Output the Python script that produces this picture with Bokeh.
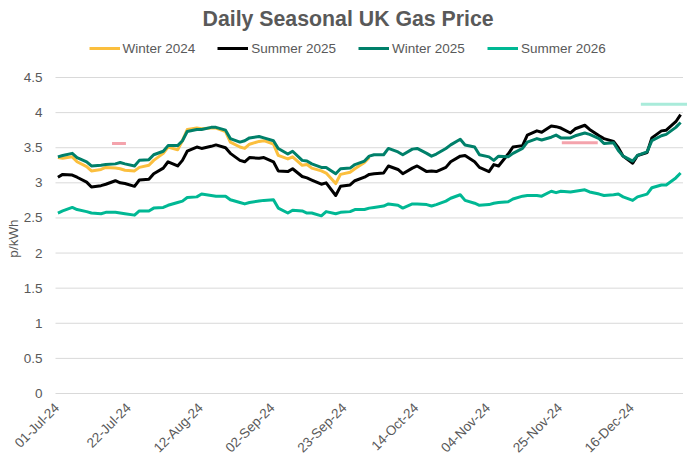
import math
import pandas as pd
from bokeh.plotting import figure
from bokeh.models import Range1d, Legend, LegendItem, ColumnDataSource
from bokeh.core.properties import value
from bokeh.embed import file_html
from bokeh.resources import INLINE

# ---------------- data ----------------
title_text = "Daily Seasonal UK Gas Price"
y_label = "p/kWh"
n_days = 131
trading_days = pd.bdate_range("2024-07-01", periods=n_days)
x_tick_days = list(range(0, 121, 15))
x_tick_labels = [trading_days[d].strftime("%d-%b-%y") for d in x_tick_days]
y_ticks = [0, 0.5, 1, 1.5, 2, 2.5, 3, 3.5, 4, 4.5]
y_tick_labels = ["0", "0.5", "1", "1.5", "2", "2.5", "3", "3.5", "4", "4.5"]

# values read every ~1.44 trading days (91 samples over 131 trading days)
n_samples = 91
sample_day = [round(i * (n_days - 1) / (n_samples - 1)) for i in range(n_samples)]

winter_2024 = [3.36, 3.35, 3.37, 3.30, 3.23, 3.17, 3.19, 3.22, 3.21, 3.20, 3.18, 3.17, 3.22, 3.25, 3.32,
               3.42, 3.51, 3.47, 3.60, 3.76, 3.78, 3.77, 3.78, 3.78, 3.73, 3.58, 3.51, 3.49, 3.55, 3.59,
               3.60,
               3.55, 3.39, 3.34, 3.37, 3.25, 3.26, 3.21, 3.17, 3.14, 2.99, 3.12, 3.15, 3.20, 3.29, 3.36]

summer_2025 = [3.08, 3.12, 3.11, 3.08, 3.01, 2.94, 2.96, 2.98, 3.03, 3.00, 2.99, 2.95, 3.04, 3.05, 3.13,
               3.21, 3.30, 3.24, 3.32, 3.45, 3.51, 3.49, 3.52, 3.54, 3.50, 3.42, 3.32, 3.30, 3.36, 3.35,
               3.36,
               3.30, 3.17, 3.16, 3.20, 3.09, 3.07, 3.04, 2.98, 3.00, 2.82, 2.95, 2.97, 3.03, 3.08, 3.12,
               3.13, 3.14, 3.24, 3.19, 3.13, 3.21, 3.24, 3.16, 3.17, 3.16, 3.22, 3.30, 3.38, 3.39, 3.30,
               3.22, 3.16, 3.26, 3.24, 3.41, 3.51, 3.53, 3.68, 3.74, 3.72, 3.81, 3.80, 3.78, 3.71, 3.77,
               3.82, 3.76, 3.67, 3.63, 3.59, 3.50, 3.38, 3.28, 3.39, 3.43, 3.64, 3.74, 3.75, 3.87, 3.97]

winter_2025 = [3.37, 3.39, 3.42, 3.36, 3.30, 3.24, 3.25, 3.26, 3.27, 3.29, 3.27, 3.24, 3.32, 3.33, 3.40,
               3.45, 3.53, 3.53, 3.60, 3.73, 3.76, 3.76, 3.79, 3.79, 3.75, 3.63, 3.58, 3.60, 3.64, 3.66,
               3.64,
               3.60, 3.49, 3.41, 3.45, 3.32, 3.31, 3.27, 3.22, 3.22, 3.13, 3.20, 3.21, 3.26, 3.31, 3.38,
               3.40, 3.40, 3.49, 3.44, 3.40, 3.48, 3.49, 3.42, 3.38, 3.41, 3.49, 3.54, 3.62, 3.54, 3.51,
               3.40, 3.37, 3.32, 3.38, 3.37, 3.42, 3.49, 3.58, 3.63, 3.61, 3.65, 3.68, 3.64, 3.64, 3.67,
               3.71, 3.69, 3.63, 3.56, 3.57, 3.46, 3.38, 3.31, 3.39, 3.44, 3.60, 3.67, 3.69, 3.79, 3.86]

summer_2026 = [2.57, 2.60, 2.65, 2.62, 2.59, 2.57, 2.56, 2.58, 2.58, 2.57, 2.56, 2.54, 2.60, 2.60, 2.64,
               2.65, 2.68, 2.72, 2.74, 2.79, 2.80, 2.84, 2.82, 2.81, 2.81, 2.76, 2.72, 2.70, 2.72, 2.74,
               2.75,
               2.76, 2.64, 2.57, 2.61, 2.60, 2.57, 2.57, 2.53, 2.59, 2.56, 2.58, 2.59, 2.62, 2.62, 2.64,
               2.65, 2.67, 2.70, 2.68, 2.64, 2.70, 2.70, 2.69, 2.67, 2.69, 2.74, 2.78, 2.83, 2.75, 2.71,
               2.68, 2.69, 2.71, 2.72, 2.73, 2.77, 2.81, 2.82, 2.82, 2.81, 2.88, 2.86, 2.88, 2.87, 2.88,
               2.90, 2.87, 2.84, 2.82, 2.83, 2.84, 2.80, 2.75, 2.80, 2.84, 2.93, 2.97, 2.97, 3.07, 3.14]

series_names = ["Winter 2024", "Summer 2025", "Winter 2025", "Summer 2026"]
series_values = [winter_2024, summer_2025, winter_2025, summer_2026]
series_colors = ["#FBBF3E", "#000000", "#00806A", "#00B894"]

# short horizontal marks visible in the chart (start day, end day, value)
mark_start = [11.3, 105.2, 121.7]
mark_end = [14.2, 112.7, 133.0]
mark_value = [3.56, 3.57, 4.12]
mark_colors = ["#F4A3AC", "#F4A3AC", "#A9EBDA"]

# ---------------- layout (pixels) ----------------
TEXT = "#595959"
GRID = "#D9D9D9"
FONT = "Liberation Sans"
FIG_W, FIG_H = 687, 454
FRAME_TOP = 34            # title panel above the frame
ZERO_Y = 393              # figure px of the 0 line
PX_PER_UNIT = 316 / 4.5   # vertical px per p/kWh
DAY0_X = 57.4             # figure px of the first trading day
PX_PER_DAY = 4.79         # horizontal px per trading day
axis_start, axis_end = -0.5, n_days - 0.5

x_lo = -DAY0_X / PX_PER_DAY
x_hi = (FIG_W - DAY0_X) / PX_PER_DAY
y_top = (ZERO_Y - FRAME_TOP) / PX_PER_UNIT
y_bottom = -(FIG_H - ZERO_Y) / PX_PER_UNIT

p = figure(width=FIG_W, height=FIG_H, output_backend="svg", toolbar_location=None,
           x_axis_type=None, y_axis_type=None,
           x_range=Range1d(x_lo, x_hi), y_range=Range1d(y_bottom, y_top),
           min_border_left=0, min_border_right=0, min_border_top=FRAME_TOP,
           min_border_bottom=0)
p.outline_line_color = None
p.background_fill_color = "white"
p.xgrid.visible = False
p.ygrid.visible = False

p.title.text = title_text
p.title.text_font = FONT
p.title.text_font_size = "21.3px"
p.title.text_font_style = "bold"
p.title.text_color = TEXT
p.title.align = "left"
p.title.offset = 202
p.title.standoff = 7.5

# horizontal gridlines at the value ticks, across the category axis span
p.segment(x0=[axis_start] * len(y_ticks), y0=y_ticks, x1=[axis_end] * len(y_ticks), y1=y_ticks,
          line_color=GRID, line_width=1)

# value tick labels
p.text(x=[axis_start] * len(y_ticks), y=y_ticks, text=y_tick_labels,
       text_align="right", text_baseline="middle", x_offset=-13,
       text_font=value(FONT), text_font_size="13.5px", text_color=TEXT)

# value axis title
p.text(x=[axis_start], y=[(y_ticks[0] + y_ticks[-1]) / 2], text=[y_label], angle=math.pi / 2,
       text_align="center", text_baseline="middle", x_offset=-42.5, y_offset=3,
       text_font=value(FONT), text_font_size="13.5px", text_color=TEXT)

# rotated date labels under the 0 line
p.text(x=x_tick_days, y=[0] * len(x_tick_days), text=x_tick_labels,
       angle=math.pi / 4, text_align="right", text_baseline="middle",
       x_offset=-1, y_offset=12, text_font=value(FONT), text_font_size="13.5px",
       text_color=TEXT)

# marks
p.segment(x0=mark_start, y0=mark_value, x1=mark_end, y1=mark_value,
          line_color=mark_colors, line_width=3)

items = []
for name, vals, col in zip(series_names, series_values, series_colors):
    src = ColumnDataSource(dict(x=sample_day[:len(vals)], y=vals))
    r = p.line("x", "y", source=src, line_color=col, line_width=3, line_join="round")
    items.append(LegendItem(label=name, renderers=[r]))

legend = Legend(items=items, orientation="horizontal",
                location=(88.5, 337 + FIG_H - ZERO_Y),
                glyph_width=31, glyph_height=16, label_height=16, label_standoff=3, spacing=22,
                padding=0, margin=0, border_line_color=None, background_fill_alpha=0,
                label_text_font=FONT, label_text_font_size="13.5px", label_text_color=TEXT)
p.add_layout(legend, "center")

open("out.html", "w").write(file_html(p, INLINE))
